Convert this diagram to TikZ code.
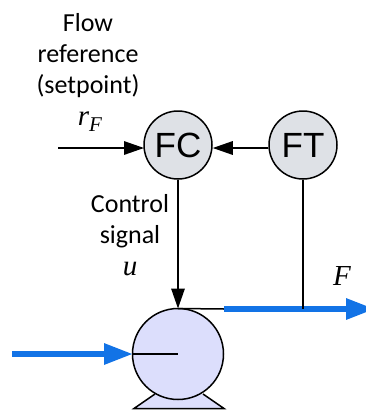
\documentclass[tikz,border=0pt]{standalone}
\usepackage{fontspec}
\setmainfont{Carlito}
\newfontfamily\instfont{Liberation Sans}
\newfontfamily\varfont{Liberation Serif}
\usetikzlibrary{arrows.meta}
\definecolor{instfill}{HTML}{DEE1E6}
\definecolor{pumpfill}{HTML}{DCDEFC}
\definecolor{flowblue}{HTML}{1273E6}
\tikzset{
  x=1pt,y=-1pt,
  inst/.style={circle,draw=black,line width=1.5pt,fill=instfill,minimum size=68pt,inner sep=0pt,font=\instfont\fontsize{35}{35}\selectfont},
  pumpbody/.style={circle,draw=black,line width=1.5pt,fill=pumpfill,minimum size=91pt,inner sep=0pt},
  lbl/.style={font=\fontsize{26}{31}\selectfont,align=center,inner sep=0pt},
  mathlbl/.style={font=\varfont\itshape\fontsize{29}{29}\selectfont,inner sep=0pt},
  sig/.style={line width=1.5pt,draw=black,-{Triangle[length=20pt,width=13.5pt]},shorten >=0pt},
  plainline/.style={line width=1.5pt,draw=black},
  flow/.style={line width=6pt,draw=flowblue,-{Triangle[length=29pt,width=20pt]}}
}
\begin{document}
\begin{tikzpicture}
\useasboundingbox (0,0) rectangle (366,410);
% pump base
\draw[plainline,fill=pumpfill,line join=miter] (155,394) -- (134,408.5) -- (224,408.5) -- (203,394);
\node[pumpbody] (pump) at (178,354) {};
\node[inst] (FC) at (178,145) {FC};
\node[inst] (FT) at (303,145) {FT};
\coordinate (rin) at (58,148);
\coordinate (rend) at (144,148);
\coordinate (pumpcentre) at (178,354);
\coordinate (pumptop) at (178,308.5);
\coordinate (flowstart) at (224,309);
\coordinate (flowend) at (375,309);
\coordinate (tap) at (303,309);
\coordinate (instart) at (12,354);
\coordinate (inend) at (133,354);
\draw[flow] (instart) -- (inend);
\draw[plainline] (inend) -- (pumpcentre);
\draw[plainline] (pumptop) -- (flowstart);
\draw[flow] (flowstart) -- (flowend);
\draw[plainline] (FT.south) -- (tap);
\draw[sig] (rin) -- (rend);
\draw[sig] (FT.west |- rend) -- (FC.east |- rend);
\draw[sig] (FC.south) -- (pumptop);
\node[lbl] (ref) at (88,55.5) {Flow\\reference\\(setpoint)};
\node[mathlbl] (rf) at (90,122) {r\raisebox{-6pt}{\fontsize{21}{21}\selectfont F}};
\node[lbl] (ctl) at (130,221) {Control\\signal};
\node[mathlbl] (u) at (130,269) {u};
\node[mathlbl] (F) at (342,276) {F};
\end{tikzpicture}
\end{document}
